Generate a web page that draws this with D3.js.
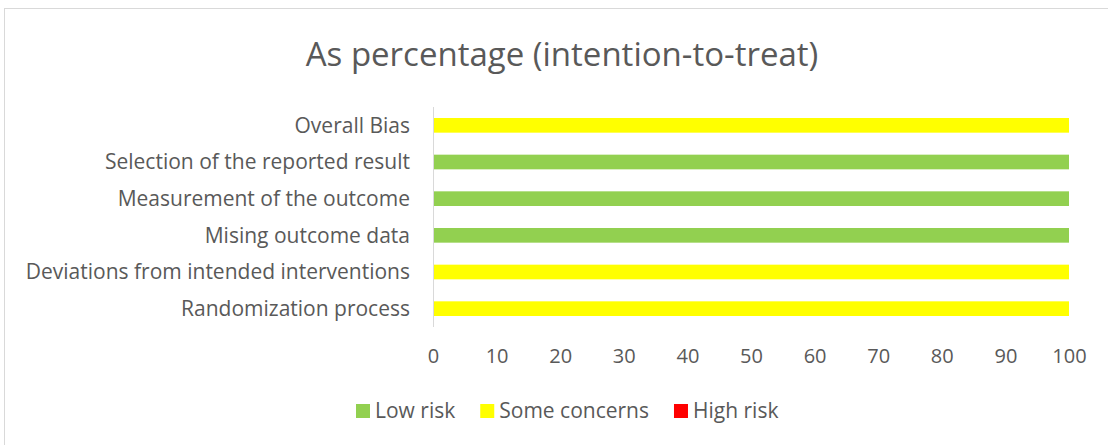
<!DOCTYPE html>
<html>
<head>
<meta charset="utf-8">
<script src="https://cdn.jsdelivr.net/npm/d3@7/dist/d3.min.js"></script>
<style>
  html, body { margin: 0; padding: 0; background: #fff; }
  svg { display: block; font-family: "Open Sans", "Noto Sans", sans-serif; }
</style>
</head>
<body>
<svg id="chart" width="1108" height="445"></svg>
<script>
/* Risk-of-bias summary, stacked horizontal bars (ITT) */

const categories = [
  "Randomization process",
  "Deviations from intended interventions",
  "Mising outcome data",
  "Measurement of the outcome",
  "Selection of the reported result",
  "Overall Bias",
];
const lowRisk = [0, 0, 100, 100, 100, 0];
const someConcerns = [100, 100, 0, 0, 0, 100];
const highRisk = [0, 0, 0, 0, 0, 0];
const seriesNames = ["Low risk", "Some concerns", "High risk"];
const seriesColors = ["#92D050", "#FFFF00", "#FF0000"];
const xTicks = [0, 10, 20, 30, 40, 50, 60, 70, 80, 90, 100];

const svg = d3.select("#chart");
const TEXT = "#595959";

// outer chart frame (runs off the bottom/right edge of the picture)
svg.append("rect")
  .attr("x", 4.5).attr("y", 8.5)
  .attr("width", 1110).attr("height", 450)
  .attr("fill", "#fff")
  .attr("stroke", "#d9d9d9");

svg.append("text")
  .attr("x", 562).attr("y", 66)
  .attr("text-anchor", "middle")
  .attr("font-size", 33)
  .attr("fill", TEXT)
  .text("As percentage (intention-to-treat)");

const rows = categories.map((c, i) => ({
  cat: c, low: lowRisk[i], some: someConcerns[i], high: highRisk[i],
}));
const stack = d3.stack().keys(["low", "some", "high"])(rows);

const x = d3.scaleLinear().domain([0, 100]).range([433, 1069]);
// first category sits at the bottom
const y = d3.scaleBand()
  .domain(categories.slice().reverse())
  .range([107, 327])
  .paddingInner(0.6)
  .paddingOuter(0.3);

svg.append("g").selectAll("g")
  .data(stack)
  .join("g")
  .attr("fill", (d, i) => seriesColors[i])
  .selectAll("rect")
  .data((d) => d)
  .join("rect")
  .attr("x", (d) => x(d[0]))
  .attr("y", (d) => y(d.data.cat))
  .attr("width", (d) => x(d[1]) - x(d[0]))
  .attr("height", y.bandwidth());

// vertical category axis line
svg.append("line")
  .attr("x1", 433.5).attr("x2", 433.5)
  .attr("y1", 107).attr("y2", 327)
  .attr("stroke", "#d9d9d9");

svg.append("g").selectAll("text")
  .data(categories)
  .join("text")
  .attr("x", 410)
  .attr("y", (d) => y(d) + y.bandwidth() / 2)
  .attr("dy", "0.35em")
  .attr("text-anchor", "end")
  .attr("font-size", 21)
  .attr("fill", TEXT)
  .text((d) => d);

const xAxis = svg.append("g")
  .attr("transform", "translate(0,356)")
  .call(d3.axisBottom(x).tickValues(xTicks).tickSize(0).tickPadding(0));
xAxis.select(".domain").remove();
xAxis.selectAll("text")
  .attr("font-family", "\"Open Sans\", sans-serif")
  .attr("font-size", 20)
  .attr("fill", TEXT)
  .attr("dy", "0.35em");

// legend, laid out left to right from measured text
const legend = svg.append("g").attr("transform", "translate(356,411)");
let lx = 0;
seriesNames.forEach((name, i) => {
  const g = legend.append("g").attr("transform", `translate(${lx},0)`);
  g.append("rect")
    .attr("x", 0).attr("y", -7)
    .attr("width", 14).attr("height", 14)
    .attr("fill", seriesColors[i]);
  const t = g.append("text")
    .attr("x", 19).attr("dy", "0.35em")
    .attr("font-size", 21)
    .attr("fill", TEXT)
    .text(name);
  lx += 19 + t.node().getComputedTextLength() + 25;
});
</script>
</body>
</html>
